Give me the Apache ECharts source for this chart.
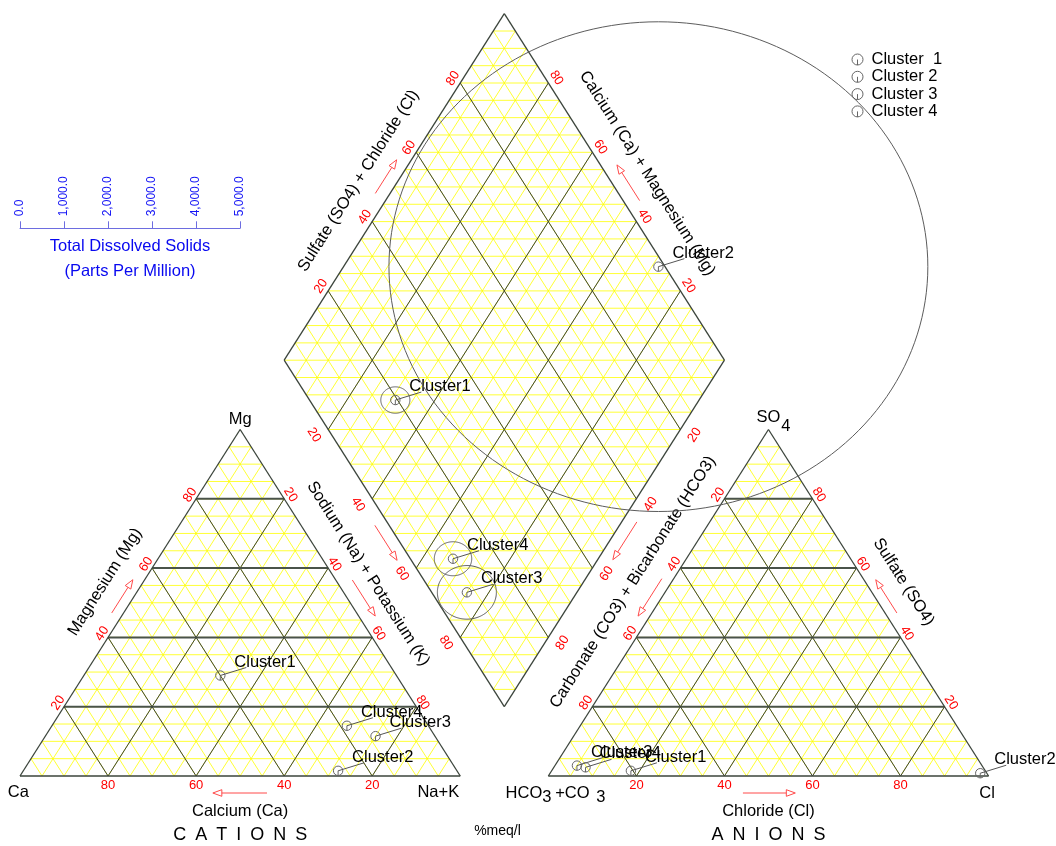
<!DOCTYPE html>
<html>
<head>
<meta charset="utf-8">
<script src="https://cdn.jsdelivr.net/npm/echarts@6/dist/echarts.min.js"></script>
<style>
  html, body { margin: 0; padding: 0; background: #fff; }
  #chart { width: 1056px; height: 846px; }
</style>
</head>
<body>
<div id="chart"></div>
<script>
// Piper trilinear diagram: cation triangle, anion triangle and the central diamond

const clusterLabels = ['Cluster1', 'Cluster2', 'Cluster3', 'Cluster4'];
const legendLabels = ['Cluster  1', 'Cluster 2', 'Cluster 3', 'Cluster 4'];

// cations, % meq/l
const calcium = [40, 27, 13.5, 18.5];
const magnesium = [29, 1.5, 11.5, 14.5];
const sodiumPotassium = [31, 71.5, 75, 67];

// anions, % meq/l
const bicarbonate = [80.5, 1.5, 92, 90.3];
const sulfate = [1.5, 0.8, 3, 2.5];
const chloride = [18, 97.7, 5, 7.2];

// total dissolved solids, ppm
const totalDissolvedSolids = [330, 6120, 670, 425];

const percentTicks = [20, 40, 60, 80];
const tdsTicks = [0, 1000, 2000, 3000, 4000, 5000];

// ---- geometry (x in triangle sides, y in triangle heights) ----
const SIDE_IN_Y = 2 / Math.sqrt(3);          // one side length expressed in height units
const TDS_BAR = 0.5;                          // length of the TDS scale bar, in sides
const CATION_TRI = { a: [0, 0], b: [1, 0], c: [0.5, 1] };      // Ca, Na+K, Mg
const ANION_TRI = { a: [1.2, 0], b: [2.2, 0], c: [1.7, 1] };   // HCO3+CO3, Cl, SO4
const DIAMOND = { b: [1.1, 0.2], l: [0.6, 1.2], r: [1.6, 1.2], t: [1.1, 2.2] };

const FONT = '"Liberation Sans", Arial, sans-serif';
const YELLOW = '#ffff00';
const DARK = '#3b443b';
const RED = '#ff0000';
const ARROW_RED = '#ff4a4a';

function ternary(tri, pa, pb, pc) {
  const s = pa + pb + pc;
  return [
    (pa * tri.a[0] + pb * tri.b[0] + pc * tri.c[0]) / s,
    (pa * tri.a[1] + pb * tri.b[1] + pc * tri.c[1]) / s
  ];
}

// caMg, so4Cl are fractions 0..1
function diamondPoint(caMg, so4Cl) {
  const D = DIAMOND;
  return [
    D.b[0] + (D.r[0] - D.b[0]) * so4Cl + (D.l[0] - D.b[0]) * caMg,
    D.b[1] + (D.r[1] - D.b[1]) * so4Cl + (D.l[1] - D.b[1]) * caMg
  ];
}

// ---- grid line segments in data space ----
const yellowSegments = [];
const darkSegments = [];

function triangleGrid(tri) {
  for (let k = 1; k < 20; k++) {
    const t = k / 20;
    const major = k % 4 === 0;
    const fams = [
      [ternary(tri, 1 - t, 0, t), ternary(tri, 0, 1 - t, t), 2],   // constant apex component (horizontal)
      [ternary(tri, t, 1 - t, 0), ternary(tri, t, 0, 1 - t), 1],
      [ternary(tri, 1 - t, t, 0), ternary(tri, 0, t, 1 - t), 1]
    ];
    fams.forEach(f => {
      yellowSegments.push([f[0], f[1]]);
      if (major) darkSegments.push([f[0], f[1], f[2]]);
    });
  }
  darkSegments.push([tri.a, tri.b, 1.3], [tri.b, tri.c, 1.3], [tri.c, tri.a, 1.3]);
}

function diamondGrid() {
  for (let k = 1; k < 20; k++) {
    const t = k / 20;
    const sLine = [diamondPoint(0, t), diamondPoint(1, t)];
    const cLine = [diamondPoint(t, 0), diamondPoint(t, 1)];
    yellowSegments.push(sLine, cLine);
    if (k % 4 === 0) darkSegments.push([sLine[0], sLine[1], 1], [cLine[0], cLine[1], 1]);
  }
  for (let k = 1; k < 40; k++) {
    const m = k / 20;
    if (m <= 1) yellowSegments.push([diamondPoint(m, 0), diamondPoint(0, m)]);
    else yellowSegments.push([diamondPoint(1, m - 1), diamondPoint(m - 1, 1)]);
  }
  const D = DIAMOND;
  darkSegments.push([D.b, D.r, 1.3], [D.r, D.t, 1.3], [D.t, D.l, 1.3], [D.l, D.b, 1.3]);
}

triangleGrid(CATION_TRI);
triangleGrid(ANION_TRI);
diamondGrid();

// ---- frame: grid, axis numbers, axis titles, arrows ----
function renderFrame(params, api) {
  const P = p => api.coord(p);
  const kids = [];

  yellowSegments.forEach(([a, b]) => {
    const A = P(a), B = P(b);
    kids.push({ type: 'line', shape: { x1: A[0], y1: A[1], x2: B[0], y2: B[1] },
      style: { stroke: YELLOW, lineWidth: 0.8 } });
  });
  darkSegments.forEach(([a, b, w]) => {
    const A = P(a), B = P(b);
    kids.push({ type: 'line', shape: { x1: A[0], y1: A[1], x2: B[0], y2: B[1] },
      style: { stroke: w > 1.5 ? '#4a534a' : DARK, lineWidth: w } });
  });

  function edge(p0, p1) {
    const A = P(p0), B = P(p1);
    const dx = B[0] - A[0], dy = B[1] - A[1];
    const len = Math.hypot(dx, dy);
    const d = [dx / len, dy / len];
    const n = [d[1], -d[0]];
    const rot = d[0] >= 0 ? Math.atan2(-d[1], d[0]) : Math.atan2(d[1], -d[0]);
    return { A, d, n, len, rot: Math.abs(rot) < 1e-6 ? 0 : rot };
  }
  function at(e, f, off, shift) {
    const s = e.len * f + (shift || 0);
    return [e.A[0] + e.d[0] * s + e.n[0] * off, e.A[1] + e.d[1] * s + e.n[1] * off];
  }
  function text(pos, str, size, color, rot, align) {
    kids.push({ type: 'text', x: pos[0], y: pos[1], rotation: rot || 0,
      style: { text: str, x: 0, y: 0, fill: color, fontSize: size, fontFamily: FONT,
        align: align || 'center', verticalAlign: 'middle' } });
  }
  function arrow(e, f1, f2, off) {
    const p1 = at(e, f1, off), p2 = at(e, f2, off);
    const ux = (p2[0] - p1[0]), uy = (p2[1] - p1[1]);
    const L = Math.hypot(ux, uy);
    const u = [ux / L, uy / L], v = [-u[1], u[0]];
    const base = [p2[0] - u[0] * 9, p2[1] - u[1] * 9];
    kids.push({ type: 'line', shape: { x1: p1[0], y1: p1[1], x2: base[0], y2: base[1] },
      style: { stroke: ARROW_RED, lineWidth: 1 } });
    kids.push({ type: 'polygon', shape: { points: [p2,
      [base[0] + v[0] * 3.3, base[1] + v[1] * 3.3], [base[0] - v[0] * 3.3, base[1] - v[1] * 3.3]] },
      style: { fill: 'none', stroke: ARROW_RED, lineWidth: 1 } });
  }
  function ticks(e, frac, off, shift) {
    percentTicks.forEach(v => text(at(e, frac(v), off, shift), String(v), 13, RED, e.rot));
  }

  const C = CATION_TRI, A = ANION_TRI, D = DIAMOND;
  const TITLE = 16.5;

  // cation triangle
  const eMg = edge(C.a, C.c), eNa = edge(C.c, C.b), eCa = edge(C.b, C.a);
  ticks(eMg, v => v / 100, 7);
  ticks(eNa, v => v / 100, 7.5);
  ticks(eCa, v => v / 100, 9);
  text(at(eMg, 0.51, 32.3), 'Magnesium (Mg)', TITLE, '#000', eMg.rot);
  text(at(eNa, 0.464, 30.7), 'Sodium (Na) + Potassium (K)', TITLE, '#000', eNa.rot);
  text(at(eCa, 0.5, 35), 'Calcium (Ca)', TITLE, '#000', 0);
  text(at(eCa, 0.5, 59), 'C\u2002A\u2002T\u2002I\u2002O\u2002N\u2002S', 18, '#000', 0);
  arrow(eMg, 0.455, 0.551, 10);
  arrow(eNa, 0.456, 0.56, 14);
  arrow(eCa, 0.439, 0.562, 17);
  const pMg = P(C.c), pCa = P(C.a), pNa = P(C.b);
  text([pMg[0], pMg[1] - 10.5], 'Mg', TITLE, '#000', 0);
  text([pCa[0] - 1.7, pCa[1] + 16.7], 'Ca', TITLE, '#000', 0);
  text([pNa[0] - 22, pNa[1] + 16.7], 'Na+K', TITLE, '#000', 0);

  // anion triangle
  const eHC = edge(A.a, A.c), eSO = edge(A.c, A.b), eCl = edge(A.b, A.a);
  ticks(eHC, v => 1 - v / 100, 7.4);
  ticks(eSO, v => 1 - v / 100, 7.5);
  ticks(eCl, v => 1 - v / 100, 9);
  text(at(eHC, 0.509, 32.6), 'Carbonate (CO3) + Bicarbonate (HCO3)', TITLE, '#000', eHC.rot);
  text(at(eSO, 0.49, 32.3), 'Sulfate (SO4)', TITLE, '#000', eSO.rot);
  text(at(eCl, 0.5, 35), 'Chloride (Cl)', TITLE, '#000', 0);
  text(at(eCl, 0.5, 59), 'A\u2002N\u2002I\u2002O\u2002N\u2002S', 18, '#000', 0);
  arrow(eHC, 0.554, 0.446, 10);
  arrow(eSO, 0.545, 0.449, 10);
  arrow(eCl, 0.558, 0.439, 17);
  const pSO = P(A.c), pHC = P(A.a), pCl = P(A.b);
  text([pSO[0], pSO[1] - 12], 'SO', TITLE, '#000', 0);
  text([pSO[0] + 17.4, pSO[1] - 3.3], '4', TITLE, '#000', 0);
  text([pHC[0] - 24.4, pHC[1] + 17], 'HCO', TITLE, '#000', 0);
  text([pHC[0] - 1.6, pHC[1] + 21], '3', TITLE, '#000', 0);
  text([pHC[0] + 24, pHC[1] + 17], '+CO', TITLE, '#000', 0);
  text([pHC[0] + 52.4, pHC[1] + 21], '3', TITLE, '#000', 0);
  text([pCl[0] - 1.6, pCl[1] + 17], 'Cl', TITLE, '#000', 0);

  // diamond
  const eDS = edge(D.l, D.t), eDC = edge(D.t, D.r), eDH = edge(D.r, D.b), eDN = edge(D.b, D.l);
  ticks(eDS, v => v / 100, 8.5);
  ticks(eDC, v => 1 - v / 100, 9.5);
  ticks(eDH, v => v / 100, 15, -3);
  ticks(eDN, v => 1 - v / 100, 15, 3);
  text(at(eDS, 0.466, 33.5), 'Sulfate (SO4) + Chloride (Cl)', TITLE, '#000', eDS.rot);
  text(at(eDC, 0.515, 35), 'Calcium (Ca) + Magnesium (Mg)', TITLE, '#000', eDC.rot);
  arrow(eDS, 0.462, 0.559, 12.5);
  arrow(eDC, 0.561, 0.458, 14);
  arrow(eDN, 0.542, 0.441, 12);
  arrow(eDH, 0.447, 0.556, 12.8);

  const pUnit = P([D.b[0], 0]);
  text([pUnit[0] - 6.8, pUnit[1] + 55], '%meq/l', 14, '#000', 0);

  return { type: 'group', children: kids };
}

// ---- cluster markers, labels and TDS circles ----
const MARKER_R = 4.7;
function renderCluster(label) {
  return function (params, api) {
    const p = api.coord([api.value(0), api.value(1)]);
    const r = api.value(2);
    const kids = [];
    if (r > 0) {
      const rx = api.size([r, 0])[0];
      const ry = api.size([0, r * SIDE_IN_Y])[1];
      const pts = [];
      for (let k = 0; k < 180; k++) {
        const a = k / 180 * Math.PI * 2;
        pts.push([p[0] + rx * Math.cos(a), p[1] + ry * Math.sin(a)]);
      }
      kids.push({ type: 'polygon', shape: { points: pts },
        style: { fill: 'none', stroke: '#5c5c5c', lineWidth: 1 } });
    }
    kids.push({ type: 'circle', shape: { cx: p[0], cy: p[1], r: MARKER_R },
      style: { fill: 'none', stroke: '#666', lineWidth: 1 } });
    kids.push({ type: 'line', shape: { x1: p[0], y1: p[1], x2: p[0], y2: p[1] + MARKER_R },
      style: { stroke: '#666', lineWidth: 1 } });
    kids.push({ type: 'line', shape: { x1: p[0], y1: p[1], x2: p[0] + 26, y2: p[1] - 8 },
      style: { stroke: '#555', lineWidth: 1 } });
    kids.push({ type: 'text', x: p[0] + 14, y: p[1] - 13.5,
      style: { text: label, x: 0, y: 0, fill: '#000', fontSize: 16.5, fontFamily: FONT,
        align: 'left', verticalAlign: 'middle' } });
    return { type: 'group', children: kids };
  };
}

const clusterSeries = clusterLabels.map((label, i) => {
  const cat = ternary(CATION_TRI, calcium[i], sodiumPotassium[i], magnesium[i]);
  const an = ternary(ANION_TRI, bicarbonate[i], chloride[i], sulfate[i]);
  const cSum = calcium[i] + magnesium[i] + sodiumPotassium[i];
  const aSum = bicarbonate[i] + sulfate[i] + chloride[i];
  const dia = diamondPoint((calcium[i] + magnesium[i]) / cSum, (sulfate[i] + chloride[i]) / aSum);
  const radius = totalDissolvedSolids[i] / tdsTicks[tdsTicks.length - 1] * TDS_BAR;
  return {
    type: 'custom',
    name: legendLabels[i],
    coordinateSystem: 'cartesian2d',
    xAxisIndex: 0, yAxisIndex: 0,
    z: 5,
    silent: true,
    itemStyle: { color: '#666' },
    data: [[cat[0], cat[1], 0], [an[0], an[1], 0], [dia[0], dia[1], radius]],
    renderItem: renderCluster(label)
  };
});

const MARKER_ICON = 'path://M0,10A10,10,0,1,1,20,10A10,10,0,1,1,0,10ZM10,10L10,20';

const chart = echarts.init(document.getElementById('chart'), null, { renderer: 'canvas' });
chart.setOption({
  animation: false,
  backgroundColor: '#fff',
  grid: [
    { left: 20, width: 968.6, top: 13.7, height: 762.3 },
    { left: 20, width: 220, top: 150, height: 78.3 }
  ],
  xAxis: [
    { gridIndex: 0, type: 'value', min: 0, max: 2.2, show: false },
    {
      gridIndex: 1, type: 'value', position: 'bottom',
      min: tdsTicks[0], max: tdsTicks[tdsTicks.length - 1], interval: tdsTicks[1] - tdsTicks[0],
      axisLine: { show: true, lineStyle: { color: '#6d6de0', width: 1 } },
      axisTick: { show: true, inside: true, length: 7, lineStyle: { color: '#6d6de0' } },
      splitLine: { show: false },
      axisLabel: {
        inside: true, rotate: 90, margin: 12, color: '#1414f5', fontSize: 12, fontFamily: FONT,
        padding: [6, 0, 0, 0],
        formatter: v => v.toLocaleString('en-US', { minimumFractionDigits: 1, maximumFractionDigits: 1 })
      },
      name: 'Total Dissolved Solids\n(Parts Per Million)',
      nameLocation: 'middle', nameGap: 6,
      nameTextStyle: { color: '#0808f0', fontSize: 16.5, fontFamily: FONT, lineHeight: 25, verticalAlign: 'top' }
    }
  ],
  yAxis: [
    { gridIndex: 0, type: 'value', min: 0, max: 2.2, show: false },
    { gridIndex: 1, type: 'value', min: 0, max: 1, show: false }
  ],
  legend: {
    data: legendLabels.map(n => ({ name: n, icon: MARKER_ICON })),
    orient: 'vertical', left: 846.5, top: 46,
    itemWidth: 11, itemHeight: 11, itemGap: 0.3,
    itemStyle: { color: 'transparent', borderColor: '#666', borderWidth: 1 },
    textStyle: { fontSize: 16.5, color: '#000', fontFamily: FONT, padding: [0, 0, 0, 3.5] },
    selectedMode: false
  },
  series: [
    {
      type: 'custom',
      coordinateSystem: 'cartesian2d',
      xAxisIndex: 0, yAxisIndex: 0,
      z: 1,
      silent: true,
      data: [[0, 0]],
      renderItem: renderFrame
    }
  ].concat(clusterSeries)
});
</script>
</body>
</html>
